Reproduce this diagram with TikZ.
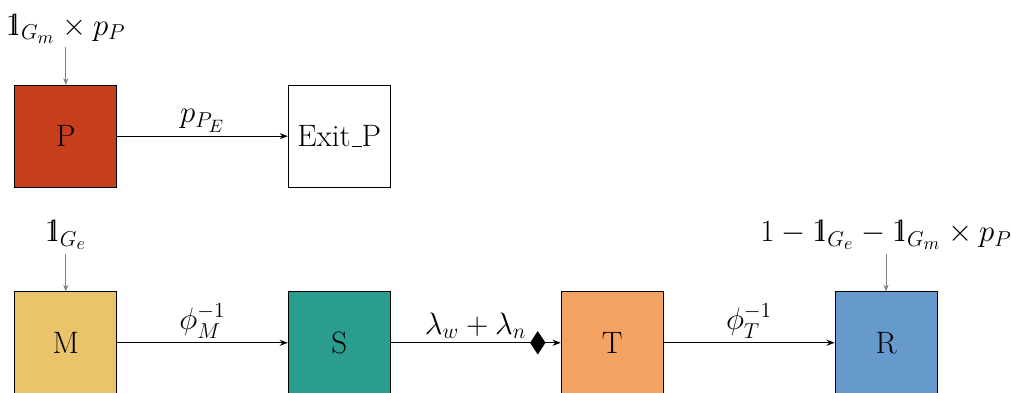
\documentclass[tikz,border=0pt]{standalone}
\usepackage{amsmath,amssymb}
\usepackage{tikz}
\usepackage{xcolor}
\usetikzlibrary{positioning,arrows.meta,shapes.geometric,calc}

\IfFileExists{bbm.sty}{\usepackage{bbm}\newcommand{\indic}{\mathbbm{1}}}{\newcommand{\indic}{\mathrm{1\mkern-5mu l}\mkern1mu}}

\definecolor{colP}{HTML}{C73E1D}
\definecolor{colM}{HTML}{E9C46A}
\definecolor{colS}{HTML}{2A9D8F}
\definecolor{colT}{HTML}{F4A261}
\definecolor{colR}{HTML}{6699CC}

\begin{document}
\begin{tikzpicture}[
      x=1cm, y=1cm,
      compbox/.style={draw, minimum width=2cm, minimum height=2cm, inner sep=0pt, font=\LARGE},
      arr/.style={-{Stealth[length=1.6mm, width=1.2mm]}, semithick},
      inarr/.style={-{Stealth[length=1.3mm, width=1mm]}, gray},
      inlbl/.style={font=\LARGE, inner sep=2pt},
      elbl/.style={font=\LARGE, above, inner sep=2pt},
      dmark/.style={diamond, fill=black, inner sep=0pt, minimum width=0.31cm, minimum height=0.47cm}
  ]
    \useasboundingbox (0,0) rectangle (19.82,7.69);
    % upper row
    \node[compbox, fill=colP] (p) at (1.29,5.02) {P};
    \node[compbox] (exitp) at (6.65,5.02) {Exit\kern.06em\vbox{\hrule width.3em}P};
    \draw[arr] (p) -- node[elbl] {$p_{P_E}$} (exitp);
    % lower row
    \node[compbox, fill=colM] (m) at (1.29,0.97) {M};
    \node[compbox, fill=colS] (s) at (6.65,0.97) {S};
    \node[compbox, fill=colT] (t) at (12.0,0.97) {T};
    \node[compbox, fill=colR] (r) at (17.37,0.97) {R};
    \draw[arr] (m) -- node[elbl] {$\phi_M^{-1}$} (s);
    \draw[arr] (s) -- node[elbl] {$\lambda_w + \lambda_n$} node[dmark, pos=0.865] (dm) {} (t);
    \draw[arr] (t) -- node[elbl] {$\phi_T^{-1}$} (r);
    % inflows
    \node[inlbl, above=0.74cm of p] (inp) {$\indic_{G_m} \times p_P$};
    \node[inlbl, above=0.74cm of m] (inm) {$\indic_{G_e}$};
    \node[inlbl, above=0.74cm of r] (inr) {$1 - \indic_{G_e} - \indic_{G_m} \times p_P$};
    \draw[inarr] (inp) -- (p);
    \draw[inarr] (inm) -- (m);
    \draw[inarr] (inr) -- (r);
  \end{tikzpicture}
\end{document}
